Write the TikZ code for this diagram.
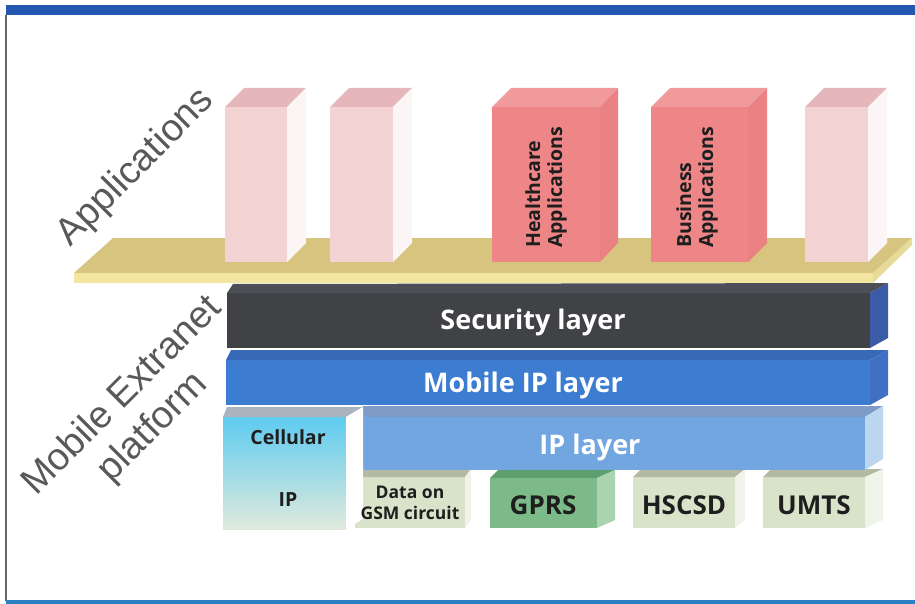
\documentclass[tikz,border=0pt]{standalone}
\usepackage{fontspec}
\usetikzlibrary{fit,calc}
\newfontfamily\arialf{Liberation Sans}
\newfontfamily\labf{Open Sans}
\definecolor{frameblue}{HTML}{2457B0}
\definecolor{botbar}{HTML}{2B7FC3}
\definecolor{shelfT}{HTML}{D7C47F}
\definecolor{shelfF}{HTML}{F3E6A2}
\definecolor{paleF}{HTML}{F3D2D4}
\definecolor{paleT}{HTML}{E5B7BB}
\definecolor{paleS}{HTML}{FBF5F5}
\definecolor{redF}{HTML}{EE8587}
\definecolor{redT}{HTML}{F19A9B}
\definecolor{redS}{HTML}{EA8183}
\definecolor{secF}{HTML}{414246}
\definecolor{secT}{HTML}{4D4F57}
\definecolor{secS}{HTML}{3B5BA6}
\definecolor{mipF}{HTML}{3C7DD1}
\definecolor{mipT}{HTML}{3869B8}
\definecolor{mipS}{HTML}{4070C4}
\definecolor{ipF}{HTML}{72A6E1}
\definecolor{ipT}{HTML}{7F9CC9}
\definecolor{ipS}{HTML}{BDD6EF}
\definecolor{celTop}{HTML}{5ECBF0}
\definecolor{celBot}{HTML}{E0EADC}
\definecolor{celT}{HTML}{A9B4BE}
\definecolor{grayF}{HTML}{D9E3CA}
\definecolor{grayT}{HTML}{B4B9A1}
\definecolor{grayS}{HTML}{F0F3E9}
\definecolor{gprsF}{HTML}{7CBA8A}
\definecolor{gprsT}{HTML}{5E9F70}
\definecolor{gprsS}{HTML}{AAD4AD}
\definecolor{txtgray}{HTML}{58595B}
\definecolor{txtdark}{HTML}{1E1E1E}
% #1 name, #2 corners, #3 left depth, #4 right depth, #5 front style, #6 top colour, #7 side colour
\newcommand\slab[7]{%
  \node[#5, draw=none, inner sep=0pt, outer sep=0pt, fit={#2}] (#1) {};
  \fill[#6] (#1.north west) -- ($(#1.north west)+#3$) -- ($(#1.north east)+#4$) -- (#1.north east) -- cycle;
  \fill[#7] (#1.north east) -- ($(#1.north east)+#4$) -- ($(#1.south east)+#4$) -- (#1.south east) -- cycle;
}
\tikzset{
  bigrot/.style={font=\arialf\fontsize{38}{44}\selectfont, text=txtgray, rotate=45, align=center, inner sep=0pt},
  lay/.style={font=\labf\bfseries\fontsize{27}{32}\selectfont, text=white, inner sep=0pt},
  small/.style={font=\labf\bfseries\fontsize{19.5}{23}\selectfont, text=txtdark, inner sep=0pt, align=center},
  tiny/.style={font=\labf\bfseries\fontsize{17.5}{20.5}\selectfont, text=txtdark, inner sep=0pt, align=center},
  big/.style={font=\labf\bfseries\fontsize{26}{30}\selectfont, text=txtdark, inner sep=0pt},
  apptxt/.style={font=\labf\bfseries\fontsize{19.5}{22}\selectfont, text=txtdark, inner sep=0pt, rotate=90, anchor=west, align=left}
}
\begin{document}
\begin{tikzpicture}[x=1pt, y=-1pt]
\useasboundingbox (0,0) rectangle (915,604);
\fill[white] (0,0) rectangle (915,604);
% frame
\fill[frameblue] (6,5) rectangle (915,15);
\draw[gray!80!black, line width=1.5pt] (6,15) -- (6,601);
\fill[botbar] (6,600) rectangle (915,604);

% bottom row
\slab{gsm}{(355,477) (465,528)}{(6,-8)}{(6,-8)}{fill=grayF}{grayT}{grayS}
\slab{gprs}{(490,478) (597,528)}{(8,-8)}{(18,-8)}{fill=gprsF}{gprsT}{gprsS}
\slab{hscsd}{(633,477) (735,528)}{(8,-8)}{(10,-8)}{fill=grayF}{grayT}{grayS}
\slab{umts}{(763,477) (865,528)}{(8,-8)}{(18,-8)}{fill=grayF}{grayT}{grayS}
% IP layer and cellular
\slab{ip}{(355,417) (865,470)}{(8,-11)}{(18,-11)}{fill=ipF}{ipT}{ipS}
\slab{cel}{(223,417) (346,529)}{(4,-10)}{(17,-10)}{top color=celTop, bottom color=celBot}{celT}{white}
% Mobile IP and security
\slab{mip}{(226,360) (870,405)}{(5,-10)}{(18,-10)}{fill=mipF}{mipT}{mipS}
\slab{sec}{(227,293) (870,348)}{(6,-9)}{(18,-10)}{fill=secF}{secT}{secS}

% shelf
\coordinate (sA) at (74,273);
\coordinate (sB) at (113,238);
\coordinate (sC) at (912,238);
\coordinate (sD) at (873,273);
\fill[shelfT] (sA) -- (sB) -- (sC) -- (sD) -- cycle;
\fill[shelfF] (sA) -- (sD) -- ++(0,10) -- ($(sA)+(0,10)$) -- cycle;
\fill[shelfF!95!black] (sD) -- (sC) -- ++(0,7) -- ($(sD)+(0,10)$) -- cycle;

% application boxes
\slab{a1}{(225,107) (287,262)}{(19,-19)}{(19,-19)}{fill=paleF}{paleT}{paleS}
\slab{a2}{(330,107) (393,262)}{(19,-19)}{(19,-19)}{fill=paleF}{paleT}{paleS}
\slab{a3}{(492,107) (600,262)}{(19,-19)}{(18,-19)}{fill=redF}{redT}{redS}
\slab{a4}{(651,107) (748,262)}{(19,-19)}{(19,-19)}{fill=redF}{redT}{redS}
\slab{a5}{(805,107) (868,262)}{(19,-19)}{(19,-19)}{fill=paleF}{paleT}{paleS}

% texts
\node[apptxt] (t3) at (546,248) {Healthcare\\Applications};
\node[apptxt] (t4) at (697,248) {Business\\Applications};
\node[lay] (tsec) at (533,322) {Security layer};
\node[lay] (tmip) at (523,385) {Mobile IP layer};
\node[lay] (tip) at (590,447) {IP layer};
\node[small] (tcel) at (288,437) {Cellular};
\node[small] (tcip) at (288,500) {IP};
\node[tiny] (tgsm) at (410,503) {Data on\\GSM circuit};
\node[big] (tgprs) at (543,505) {GPRS};
\node[big] (thscsd) at (684,505) {HSCSD};
\node[big] (tumts) at (814,505) {UMTS};
\node[bigrot] (tapp) at (136,168) {Applications};
\node[bigrot] (tmob) at (138,412) {Mobile Extranet\\platform};
\end{tikzpicture}
\end{document}
